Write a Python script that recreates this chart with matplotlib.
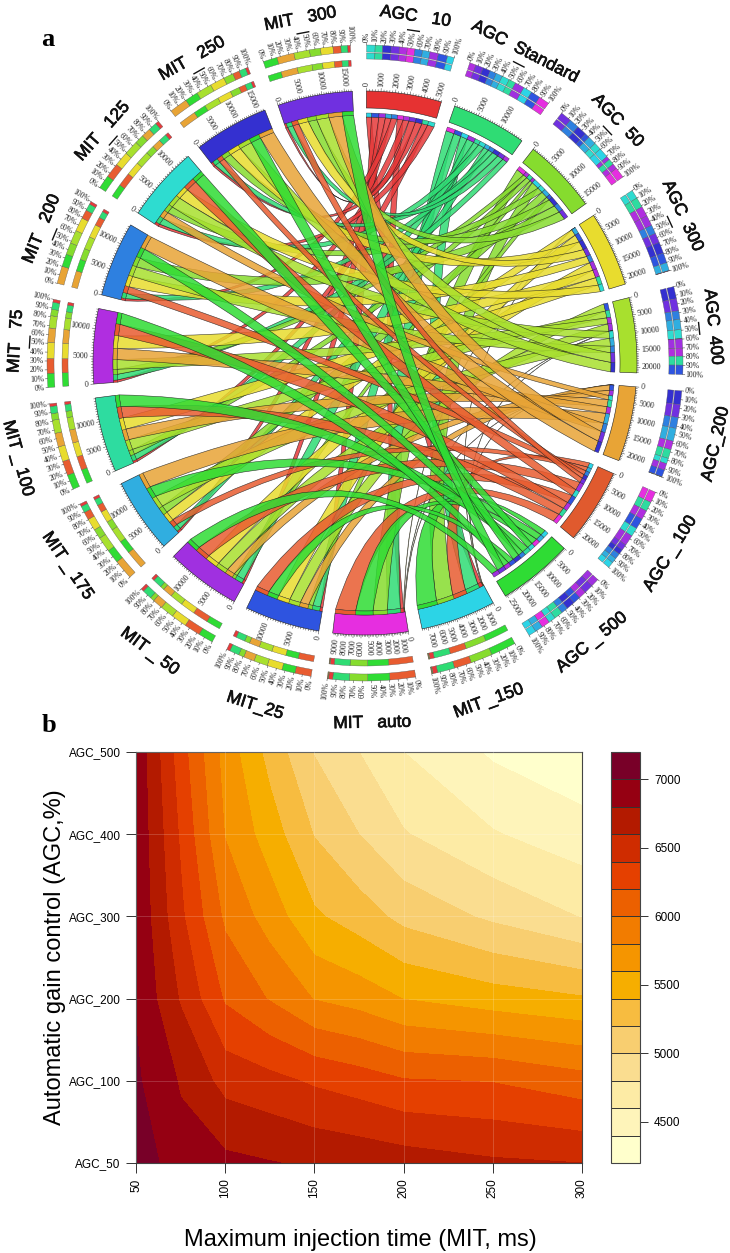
"""panel a: chord diagram AGC vs MIT, panel b: filled contour of identifications"""
import matplotlib.patheffects as pe
import matplotlib.pyplot as plt
import numpy as np
from matplotlib.patches import PathPatch, Polygon
from matplotlib.path import Path

agc_names = ['AGC_10', 'AGC_Standard', 'AGC_50', 'AGC_300', 'AGC_400', 'AGC_200', 'AGC_100', 'AGC_500']
mit_names = ['MIT_150', 'MIT_auto', 'MIT_25', 'MIT_50', 'MIT_175', 'MIT_100', 'MIT_75', 'MIT_200', 'MIT_125', 'MIT_250', 'MIT_300']
agc_labels = ['AGC   10', 'AGC  Standard', 'AGC  50', 'AGC  300', 'AGC  400', 'AGC_200', 'AGC _ 100', 'AGC _ 500']
mit_labels = ['MIT _150', 'MIT   auto', 'MIT_25', 'MIT _ 50', 'MIT _ 175', 'MIT _ 100', 'MIT   75', 'MIT   200', 'MIT   125', 'MIT   250', 'MIT   300']
agc_colors = ['#e63a3a', '#2fdc74', '#86dc2e', '#e8dc2e', '#a8e02e', '#e8a436', '#e85c30', '#2fdc34']
mit_colors = ['#2cd4e6', '#e62ee0', '#2e54e0', '#a030e0', '#30aee0', '#2edca0', '#b02ee0', '#2e80e0', '#2edcd0', '#3430d0', '#7030e0']

# rows: agc_names, columns: mit_names
flows = np.array([
	[400, 450, 550, 500, 450, 450, 450, 450, 500, 500, 500],
	[1500, 1800, 1600, 1600, 1100, 1200, 1100, 1100, 1300, 1300, 1300],
	[1900, 2000, 900, 700, 1600, 1100, 1000, 1900, 1400, 1900, 2100],
	[40, 50, 2500, 2600, 2000, 2500, 2500, 2200, 2200, 2800, 2400],
	[40, 40, 2300, 2300, 2500, 2200, 1900, 2100, 2200, 3000, 3000],
	[40, 50, 1800, 1700, 3300, 2300, 2200, 2800, 1400, 3500, 3300],
	[1500, 2800, 2700, 2700, 1300, 2400, 2300, 1400, 2200, 1300, 1500],
	[2200, 2400, 2200, 2500, 2300, 2500, 2200, 2000, 2100, 2500, 2700],
], dtype=float)

# stacking order inside each sector, 0% to 100%, as indices of the other group
agc_order = [
	[8, 5, 9, 10, 6, 1, 7, 4, 3, 2, 0],
	[6, 10, 9, 7, 4, 8, 5, 3, 0, 2, 1],
	[10, 7, 9, 2, 4, 8, 0, 3, 5, 6, 1],
	[8, 5, 6, 3, 7, 10, 9, 2, 4, 0, 1],
	[9, 10, 7, 4, 8, 0, 1, 3, 6, 5, 2],
	[9, 10, 7, 4, 6, 5, 8, 3, 2, 1, 0],
	[1, 5, 6, 2, 8, 3, 10, 9, 7, 4, 0],
	[3, 10, 6, 2, 9, 7, 5, 8, 1, 4, 0],
]
mit_order = [
	[7, 2, 6, 1, 0, 3, 4, 5],
	[6, 7, 2, 1, 0, 3, 4, 5],
	[6, 7, 3, 4, 5, 2, 1, 0],
	[7, 6, 3, 4, 5, 2, 1, 0],
	[5, 7, 4, 2, 3, 6, 1, 0],
	[7, 6, 3, 5, 4, 2, 1, 0],
	[7, 6, 3, 5, 4, 2, 1, 0],
	[5, 7, 2, 4, 3, 6, 1, 0],
	[7, 6, 3, 4, 2, 5, 1, 0],
	[5, 7, 4, 3, 2, 6, 1, 0],
	[7, 5, 4, 2, 3, 6, 1, 0],
]

# panel b
mit_time = [50, 75, 100, 125, 150, 175, 200, 250, 300]
agc_ticks = ['AGC_50', 'AGC_100', 'AGC_200', 'AGC_300', 'AGC_400', 'AGC_500']
ids_agc50 = [7130, 6880, 6850, 6810, 6770, 6740, 6700, 6630, 6600]
ids_agc100 = [7030, 6780, 6530, 6460, 6370, 6300, 6215, 6190, 6078]
ids_agc200 = [6985, 6580, 6175, 5985, 5790, 5715, 5595, 5495, 5420]
ids_agc300 = [6970, 6440, 5960, 5710, 5430, 5300, 5140, 4960, 4790]
ids_agc400 = [6960, 6370, 5790, 5500, 5190, 5000, 4815, 4615, 4480]
ids_agc500 = [6950, 6290, 5720, 5330, 4990, 4800, 4600, 4370, 4250]
level_colors = ['#ffffcc', '#fef4ba', '#fdeba5', '#fadd90', '#f8ce70', '#f7bc40', '#f6ae00', '#f59500',
	'#f27c00', '#ec6000', '#e54000', '#cf2c00', '#b31a00', '#950012', '#780028']

W, H = 730, 1253
cx, cy = 365, 363
step = 360 / 19
width = 16.0
pull = 0.35		# how far a ribbon's bend point sits from the centre, as part of its midpoint

fig = plt.figure(figsize=(W / 100, H / 100), dpi=100)
ax = fig.add_axes([0, 0, 1, 1])
ax.set_xlim(0, W)
ax.set_ylim(H, 0)
ax.axis('off')


def pt(r, a):
	"""pixel position of radius r at a degrees clockwise from the top"""
	a = np.radians(a)
	return np.column_stack([cx + r * np.sin(a), cy - r * np.cos(a)])


def ring(r0, r1, a0, a1, color, lw=0.3, ec='#222222', z=3):
	n = max(int(abs(a1 - a0)) * 2, 4)
	t = np.linspace(a0, a1, n)
	ax.add_patch(Polygon(np.vstack([pt(r1, t), pt(r0, t[::-1])]), fc=color, ec=ec, lw=lw, zorder=z))


def radial_text(r, a, s, size):
	a = a % 360
	x, y = pt(r, a)[0]
	if a < 180:
		rot, ha = 90 - a, 'left'
	else:
		rot, ha = 270 - a, 'right'
	ax.text(x, y, s, rotation=rot, rotation_mode='anchor', ha=ha, va='center', fontsize=size,
		family='Liberation Serif', color='#222222', zorder=6)


n_agc = len(agc_names)
starts = [i * step + 0.3 for i in range(n_agc + len(mit_names))]
totals = list(flows.sum(axis=1)) + list(flows.sum(axis=0))
names = agc_labels + mit_labels
sector_colors = ['#e63232', '#2fdc74', '#86dc2e', '#e8dc2e', '#a8e02e', '#e8a436', '#e05a2e', '#2fdc34'] + mit_colors

segments = {}
for s in range(len(starts)):
	is_agc = s < n_agc
	order = agc_order[s] if is_agc else mit_order[s - n_agc]
	vals = [flows[s, k] if is_agc else flows[k, s - n_agc] for k in order]
	colors = [mit_colors[k] if is_agc else agc_colors[k] for k in order]
	a0, total = starts[s], totals[s]
	scale = width / total
	r_sec = 255 if is_agc else 252
	ring(r_sec, 272, a0, a0 + width, sector_colors[s], lw=0.4)

	# axis ticks and labels
	major = 1000 if total < 10000 else 5000
	minor = major / 5 if major == 1000 else major / 10
	for v in np.arange(0, total + 1, minor):
		a = a0 + v * scale
		tick = 3.0 if v % major == 0 else 1.6
		ax.plot(*pt(np.array([272, 272 + tick]), a).T, c='#333333', lw=0.35, zorder=4)
	for v in np.arange(0, total + 1, major):
		radial_text(277, a0 + v * scale, f'{int(v)}', 5.8)

	# the two percentage strips
	strip_r = [(304, 310), (311, 318)] if is_agc else [(297, 303), (311, 318)]
	pos = a0
	for v, c in zip(vals, colors):
		for r0, r1 in strip_r:
			ring(r0, r1, pos, pos + v * scale, c, lw=0.25, ec='#555555')
		pos += v * scale
	for p in range(0, 101, 10):
		a = a0 + width * p / 100
		ax.plot(*pt(np.array([318, 320]), a).T, c='#333333', lw=0.35, zorder=4)
		radial_text(321, a, f'{p}%', 5.6)

	# inner band and chord feet run the other way round
	r_band = (246, 250) if is_agc else (248, 252)
	pos = a0
	for k, v, c in zip(order[::-1], vals[::-1], colors[::-1]):
		ring(r_band[0], r_band[1], pos, pos + v * scale, c, lw=0.25, z=3)
		segments[(s, k)] = (pos, pos + v * scale, r_band[0])
		pos += v * scale

	# sector name
	mid = a0 + width / 2
	top = np.cos(np.radians(mid)) > 0
	x, y = pt(350 if top else 360, mid)[0]
	ax.text(x, y, names[s], rotation=-mid if top else 180 - mid, rotation_mode='anchor',
		ha='center', va='center', fontsize=12.5, family='Liberation Sans', color='#111111', zorder=6,
		path_effects=[pe.withStroke(linewidth=0.5, foreground='#111111')])
	if top:
		seg = pt(336, np.array([mid - 1.0, mid + 1.0]))
		ax.plot(seg[:, 0], seg[:, 1], c='#111111', lw=1.0, zorder=6)

# chords, AGC_500 ends up on top
centre = np.array([[cx, cy]])
for i in range(n_agc):
	for j in range(len(mit_names)):
		a0, a1, ra = segments[(i, j)]
		b0, b1, rb = segments[(n_agc + j, i)]
		foot_a, foot_b = pt(ra, np.linspace(a0, a1, 8)), pt(rb, np.linspace(b0, b1, 8))
		# both edges bend around one point, offset sideways so the band keeps its width
		mid_one = (foot_a[-1:] + foot_b[:1]) / 2
		mid_two = (foot_b[-1:] + foot_a[:1]) / 2
		mid_all = (mid_one + mid_two) / 2
		bend = centre + pull * (mid_all - centre)
		verts = np.vstack([foot_a, bend + mid_one - mid_all, foot_b, bend + mid_two - mid_all, foot_a[:1]])
		codes = [Path.MOVETO] + [Path.LINETO] * 7 + [Path.CURVE3, Path.CURVE3] + [Path.LINETO] * 7 + [Path.CURVE3, Path.CURVE3]
		thin = flows[i, j] < 100
		edge = (0.35, 0.35, 0.35, 0.9) if thin else (0.1, 0.1, 0.1, 0.65)
		ax.add_patch(PathPatch(Path(verts, codes), fc=agc_colors[i], ec=edge, lw=0.4, alpha=0.85, zorder=2))

ax.text(48, 40, 'a', fontsize=19, fontweight='bold', family='Liberation Serif', ha='center', va='center')
ax.text(49, 725, 'b', fontsize=19, fontweight='bold', family='Liberation Serif', ha='center', va='center')

# panel b
left, right, top_y, bottom_y = 136, 582, 752, 1163
ax_c = fig.add_axes([left / W, 1 - bottom_y / H, (right - left) / W, (bottom_y - top_y) / H])
z = np.array([ids_agc50, ids_agc100, ids_agc200, ids_agc300, ids_agc400, ids_agc500])
levels = np.arange(4200, 7201, 200)
cf = ax_c.contourf(mit_time, range(len(agc_ticks)), z, levels=levels, colors=level_colors)
ax_c.set_xticks([50, 100, 150, 200, 250, 300])
ax_c.set_xticklabels(['50', '100', '150', '200', '250', '300'], rotation=90, family='Liberation Sans', fontsize=8.5)
ax_c.set_yticks(range(len(agc_ticks)))
ax_c.set_yticklabels(agc_ticks, family='Liberation Sans', fontsize=8.5)
ax_c.tick_params(length=7, width=0.7, color='#333333', pad=4)
ax_c.grid(color='white', alpha=0.18, lw=0.7)
ax_c.set_axisbelow(False)
for sp in ax_c.spines.values():
	sp.set_color('#444444')
	sp.set_linewidth(0.8)

ax_b = fig.add_axes([611 / W, 1 - bottom_y / H, 29 / W, (bottom_y - top_y) / H])
cb = fig.colorbar(cf, cax=ax_b, ticks=[4500, 5000, 5500, 6000, 6500, 7000], drawedges=True)
cb.dividers.set_color('#333333')
cb.dividers.set_linewidth(0.7)
cb.outline.set_edgecolor('#444444')
cb.outline.set_linewidth(0.8)
ax_b.tick_params(length=6, width=0.7, color='#333333', pad=4, labelsize=8.5)
for t in ax_b.get_yticklabels():
	t.set_family('Liberation Sans')

fig.text(55 / W, 1 - 957 / H, 'Automatic gain control (AGC,%)', rotation=90, ha='center', va='center',
	fontsize=17, family='Liberation Sans')
fig.text(360 / W, 1 - 1240 / H, 'Maximum injection time (MIT, ms)', ha='center', va='center',
	fontsize=17, family='Liberation Sans')

fig.savefig('out.png', dpi=100)
